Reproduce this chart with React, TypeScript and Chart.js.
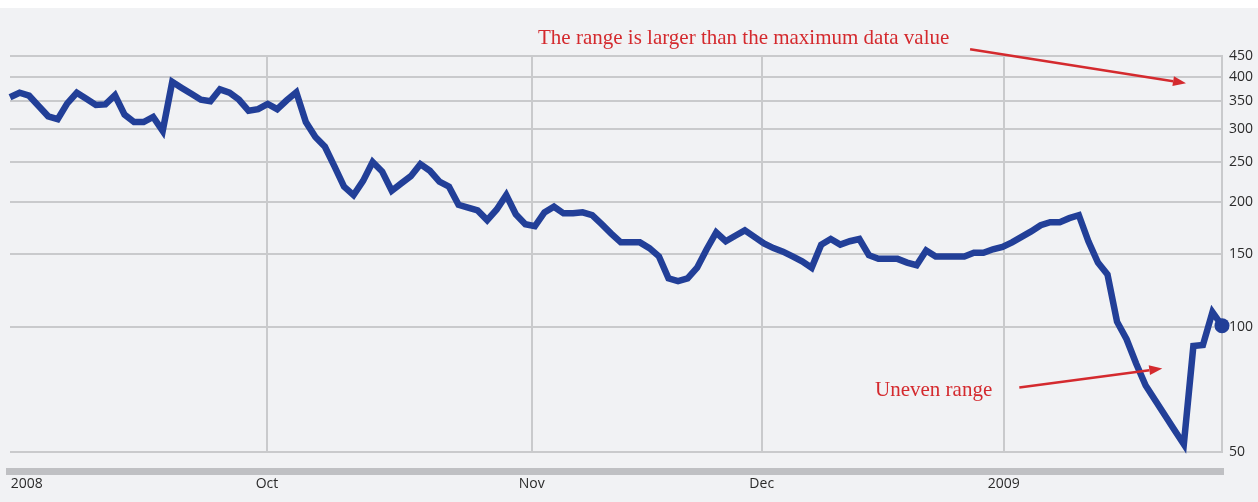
import React, { useEffect, useRef } from 'react';
import { Chart, registerables } from 'chart.js';

Chart.register(...registerables);

// Daily closing values, one per session
const values: number[] = [
  358, 367, 361, 341, 322, 317, 346, 367, 355, 343,
  344, 362, 325, 312, 312, 321, 297, 390, 377, 365,
  353, 350, 374, 367, 353, 332, 335, 345, 335, 352,
  368, 312, 287, 272, 244, 218, 208, 225, 250, 237,
  213, 222, 231, 247, 238, 224, 218, 197, 194, 191,
  181, 192, 208, 187, 177, 175, 189, 195, 188, 188,
  189, 186, 177, 168, 160, 160, 160, 155, 148, 131,
  129, 131, 139, 154, 169, 161, 166, 171, 165, 159,
  155, 152, 148, 144, 139, 158, 163, 158, 161, 163,
  149, 146, 146, 146, 143, 141, 153, 148, 148, 148,
  148, 151, 151, 154, 156, 160, 165, 170, 176, 179,
  179, 183, 186, 161, 143, 134, 103, 93.5, 81.7, 72.3,
  66.6, 61.4, 56.6, 52.2, 90, 90.5, 108.6, 100.8,
];

// Value axis (log scale) tick labels
const yTickValues: number[] = [50, 100, 150, 200, 250, 300, 350, 400, 450];

// Time axis: session index where each period label sits
const xTickPositions: number[] = [1.75, 26.93, 54.67, 78.77, 104.12];
const xTickLabels: string[] = ['2008', 'Oct', 'Nov', 'Dec', '2009'];

// Annotations (in data coordinates: session index, value)
const noteTexts = [
  { text: 'The range is larger than the maximum data value', x: 55.33, y: 480 },
  { text: 'Uneven range', x: 90.64, y: 68.1 },
];
const noteArrows = [
  { x1: 100.6, y1: 467, x2: 123.23, y2: 387 },
  { x1: 105.76, y1: 71.5, x2: 120.74, y2: 79.5 },
];

const BLUE = '#223f98';
const RED = '#d42a2e';
const GRID = '#c9cacc';
const BG = '#f1f2f4';
const TEXT = '#2b2b2b';

function drawArrow(ctx: CanvasRenderingContext2D, x1: number, y1: number, x2: number, y2: number) {
  const ang = Math.atan2(y2 - y1, x2 - x1);
  const head = 13;
  const hw = 5;
  const bx = x2 - head * Math.cos(ang);
  const by = y2 - head * Math.sin(ang);
  ctx.strokeStyle = RED;
  ctx.fillStyle = RED;
  ctx.lineWidth = 2.5;
  ctx.beginPath();
  ctx.moveTo(x1, y1);
  ctx.lineTo(bx, by);
  ctx.stroke();
  ctx.beginPath();
  ctx.moveTo(x2, y2);
  ctx.lineTo(bx - hw * Math.sin(ang), by + hw * Math.cos(ang));
  ctx.lineTo(bx + hw * Math.sin(ang), by - hw * Math.cos(ang));
  ctx.closePath();
  ctx.fill();
}

const decorPlugin = {
  id: 'decor',
  afterDraw(chart: any) {
    const { ctx, chartArea } = chart;
    const xs = chart.scales.x;
    const ys = chart.scales.y;
    ctx.save();
    // thick time-axis bar
    ctx.fillStyle = '#bfc0c3';
    ctx.fillRect(chartArea.left - 4, chartArea.bottom + 16, chartArea.right - chartArea.left + 6, 7);
    // notes
    ctx.font = '21px "Liberation Serif", serif';
    ctx.textAlign = 'left';
    ctx.textBaseline = 'alphabetic';
    ctx.fillStyle = RED;
    noteTexts.forEach((n) => {
      ctx.fillText(n.text, xs.getPixelForValue(n.x), ys.getPixelForValue(n.y));
    });
    noteArrows.forEach((a) => {
      drawArrow(
        ctx,
        xs.getPixelForValue(a.x1),
        ys.getPixelForValue(a.y1),
        xs.getPixelForValue(a.x2),
        ys.getPixelForValue(a.y2)
      );
    });
    ctx.restore();
  },
};

export default function App() {
  const ref = useRef<HTMLCanvasElement | null>(null);

  useEffect(() => {
    document.body.style.margin = '0';
    if (!ref.current) return;
    const last = values.length - 1;
    const chart = new Chart(ref.current, {
      type: 'line',
      data: {
        datasets: [
          {
            data: values.map((v, i) => ({ x: i, y: v })),
            borderColor: BLUE,
            backgroundColor: BLUE,
            borderWidth: 6.5,
            borderJoinStyle: 'miter',
            borderCapStyle: 'butt',
            tension: 0,
            fill: false,
            clip: false,
            pointRadius: values.map((_, i) => (i === last ? 7.5 : 0)),
            pointHoverRadius: 0,
            pointBackgroundColor: BLUE,
            pointBorderWidth: 0,
          } as any,
        ],
      },
      options: {
        responsive: false,
        animation: false,
        events: [],
        layout: { padding: { left: 10, top: 48, right: 0, bottom: 0 }, autoPadding: false } as any,
        plugins: { legend: { display: false }, tooltip: { enabled: false } },
        scales: {
          x: {
            type: 'linear',
            min: 0,
            max: last,
            afterBuildTicks: (axis: any) => {
              axis.ticks = xTickPositions.map((v) => ({ value: v }));
            },
            afterFit: (axis: any) => {
              axis.height = 50;
              axis.paddingLeft = 0;
              axis.paddingRight = 0;
            },
            ticks: {
              autoSkip: false,
              maxRotation: 0,
              padding: 24,
              color: TEXT,
              font: { family: '"Open Sans"', size: 14 },
              callback: (_v: any, i: number) => xTickLabels[i],
            },
            grid: {
              color: (c: any) => (c.index === 0 ? 'rgba(0,0,0,0)' : GRID),
              lineWidth: 2,
              drawTicks: false,
            },
            border: { display: false },
          },
          y: {
            type: 'logarithmic',
            position: 'right',
            min: 50,
            max: 450,
            afterBuildTicks: (axis: any) => {
              axis.ticks = yTickValues.map((v) => ({ value: v }));
            },
            afterFit: (axis: any) => {
              axis.width = 36;
              axis.paddingTop = 0;
              axis.paddingBottom = 0;
            },
            ticks: {
              autoSkip: false,
              padding: 7,
              color: TEXT,
              font: { family: '"Open Sans"', size: 14 },
              callback: (v: any) => String(v),
            },
            grid: { color: GRID, lineWidth: 2, drawTicks: false },
            border: { display: true, color: GRID, width: 2 },
          },
        },
      } as any,
      plugins: [decorPlugin],
    });
    return () => chart.destroy();
  }, []);

  return (
    <div style={{ background: '#ffffff', paddingTop: 8 }}>
      <div style={{ width: 1258, height: 494, background: BG }}>
        <canvas ref={ref} width={1258} height={494} style={{ display: 'block' }} />
      </div>
    </div>
  );
}
